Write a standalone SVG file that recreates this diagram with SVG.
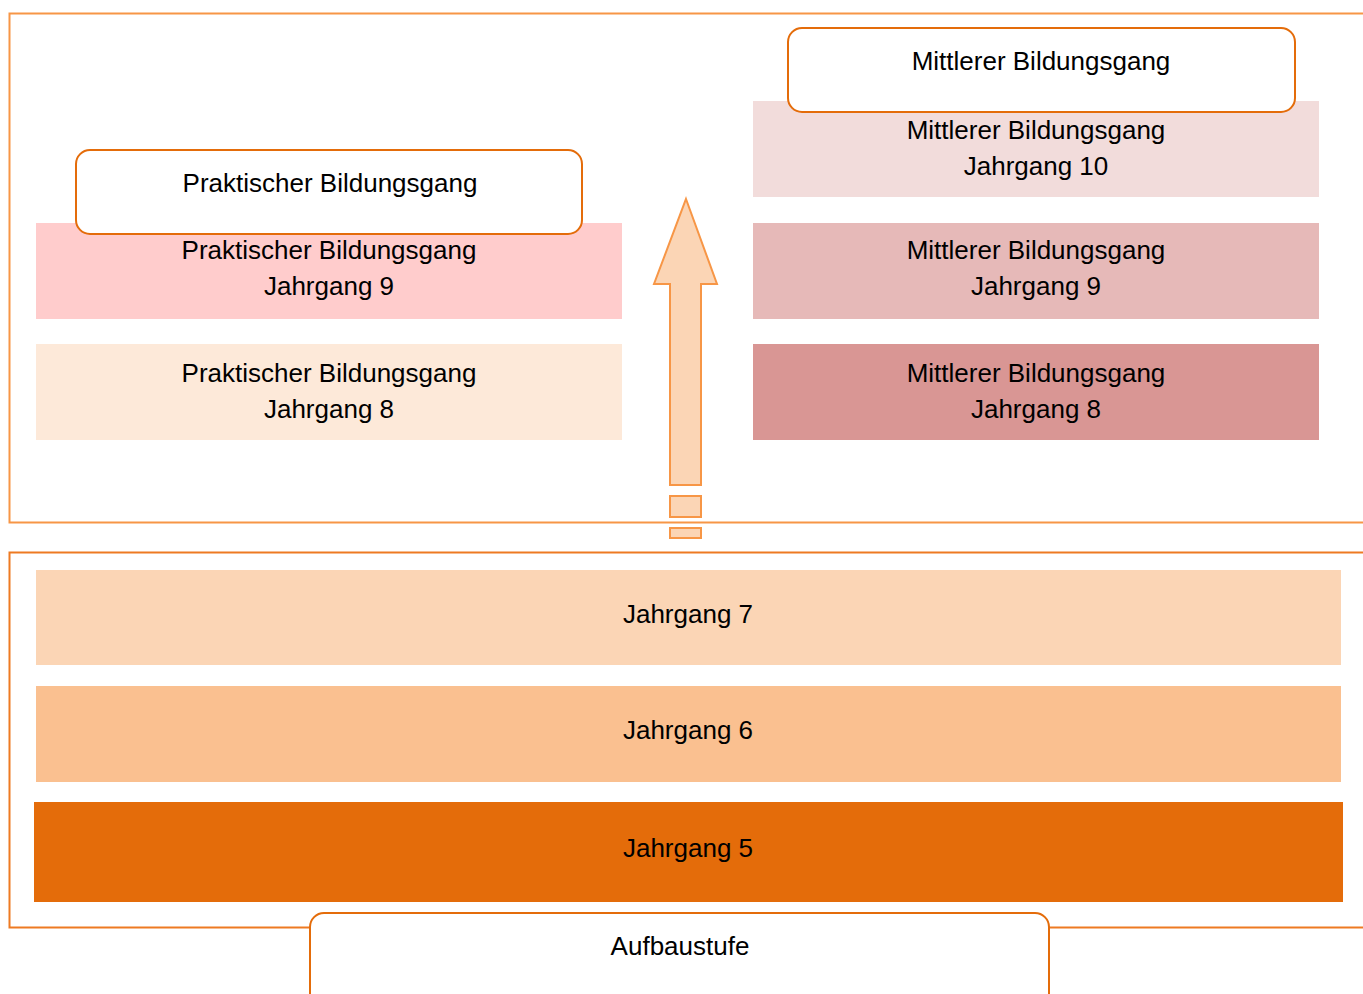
<svg xmlns="http://www.w3.org/2000/svg" width="1363" height="994" viewBox="0 0 1363 994">
<style>
text{font-family:"Liberation Sans",Arial,sans-serif;font-size:26px;fill:#000;text-anchor:middle;dominant-baseline:central}
.lbl{fill:#fff;stroke:#E46C0A;stroke-width:2}
</style>
<rect width="1363" height="994" fill="#fff"/>
<g id="frames" fill="none">
<path d="M1370,13.5 H9.5 V522.5 H1370" stroke="#F79646" stroke-width="2"/>
<path d="M1370,552.5 H9.5 V927.5 H1370" stroke="#EE7A22" stroke-width="2"/>
</g>
<g id="connectors">
<path d="M686,199 L717,284 H701 V485 H670 V284 H654 Z" fill="#FBD5B5" stroke="#F79646" stroke-width="2"/>
<rect x="670" y="496" width="31" height="21" fill="#FBD5B5" stroke="#F79646" stroke-width="2"/>
<rect x="670" y="528" width="31" height="10" fill="#FBD5B5" stroke="#F79646" stroke-width="2"/>
</g>
<g id="prakt9"><rect x="36" y="223" width="586" height="96" fill="#FFCCCC"/><text x="329" y="250">Praktischer Bildungsgang</text><text x="329" y="286">Jahrgang 9</text></g>
<g id="prakt8"><rect x="36" y="344" width="586" height="96" fill="#FDE9D9"/><text x="329" y="373">Praktischer Bildungsgang</text><text x="329" y="409">Jahrgang 8</text></g>
<g id="mittl10"><rect x="753" y="101" width="566" height="96" fill="#F2DCDB"/><text x="1036" y="130">Mittlerer Bildungsgang</text><text x="1036" y="166">Jahrgang 10</text></g>
<g id="mittl9"><rect x="753" y="223" width="566" height="96" fill="#E6B9B8"/><text x="1036" y="250">Mittlerer Bildungsgang</text><text x="1036" y="286">Jahrgang 9</text></g>
<g id="mittl8"><rect x="753" y="344" width="566" height="96" fill="#D99694"/><text x="1036" y="373">Mittlerer Bildungsgang</text><text x="1036" y="409">Jahrgang 8</text></g>
<g id="j7"><rect x="36" y="570" width="1305" height="95" fill="#FBD5B5"/><text x="688" y="614">Jahrgang 7</text></g>
<g id="j6"><rect x="36" y="686" width="1305" height="96" fill="#FAC090"/><text x="688" y="730">Jahrgang 6</text></g>
<g id="j5"><rect x="34" y="802" width="1309" height="100" fill="#E46C0A"/><text x="688" y="848">Jahrgang 5</text></g>
<g id="lbl-mittl"><rect class="lbl" x="788" y="28" width="507" height="84" rx="14"/><text x="1041" y="61">Mittlerer Bildungsgang</text></g>
<g id="lbl-prakt"><rect class="lbl" x="76" y="150" width="506" height="84" rx="14"/><text x="330" y="183">Praktischer Bildungsgang</text></g>
<g id="lbl-aufbau"><rect class="lbl" x="310" y="913" width="739" height="100" rx="14"/><text x="680" y="946">Aufbaustufe</text></g>
</svg>
